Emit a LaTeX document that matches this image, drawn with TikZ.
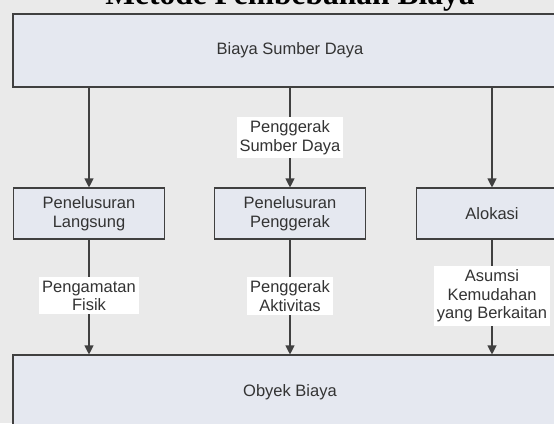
\documentclass[tikz,border=0pt]{standalone}
\usepackage{fontspec}
\setmainfont{Liberation Sans}
\newfontfamily\titlefont{Liberation Serif}
\usetikzlibrary{arrows.meta}
\definecolor{bgc}{HTML}{EAEAEA}
\definecolor{boxc}{HTML}{E5E8F0}
\definecolor{linec}{HTML}{404040}
\definecolor{txtc}{HTML}{333333}
\tikzset{
  box/.style={draw=linec, line width=1.1pt, fill=boxc, text=txtc, align=center,
    inner sep=0pt, font=\fontsize{16.5}{18.5}\selectfont},
  midbox/.style={box, minimum width=151pt, minimum height=51pt},
  bigbox/.style={box, minimum width=554pt, minimum height=73pt},
  lbl/.style={fill=white, text=txtc, align=center, inner xsep=3pt, inner ysep=3.5pt,
    font=\fontsize{16.5}{18.5}\selectfont},
  conn/.style={draw=linec, line width=1.1pt, -{Triangle[length=9pt,width=9pt]}},
}
\begin{document}
\begin{tikzpicture}[x=1pt,y=-1pt]
\useasboundingbox (0,0) rectangle (554,423);
\fill[bgc] (0,0) rectangle (554,423);
\begin{scope}
\clip (0,0) rectangle (554,423);
\node[anchor=base, text=black, font=\titlefont\bfseries\fontsize{31.5}{34}\selectfont] (title) at (290,4.5) {Metode Pembebanan Biaya};
\node[bigbox] (top) at (290,50.5) {Biaya Sumber Daya};
\node[bigbox, minimum height=74pt] (bot) at (290,392) {Obyek Biaya};
\node[midbox] (m1) at (89,213.5) {Penelusuran\\Langsung};
\node[midbox] (m2) at (290,213.5) {Penelusuran\\Penggerak};
\node[midbox] (m3) at (492,213.5) {Alokasi};
\draw[conn] (top.south -| m1) -- (m1);
\draw[conn] (top.south -| m2) -- node[lbl, pos=0.5] (l0) {Penggerak\\Sumber Daya} (m2);
\draw[conn] (top.south -| m3) -- (m3);
\draw[conn] (m1) -- node[lbl, pos=0.49] (l1) {Pengamatan\\Fisik} (m1 |- bot.north);
\draw[conn] (m2) -- node[lbl, pos=0.49] (l2) {Penggerak\\Aktivitas} (m2 |- bot.north);
\draw[conn] (m3) -- node[lbl, pos=0.49] (l3) {Asumsi\\Kemudahan\\yang Berkaitan} (m3 |- bot.north);
\end{scope}
\end{tikzpicture}
\end{document}
